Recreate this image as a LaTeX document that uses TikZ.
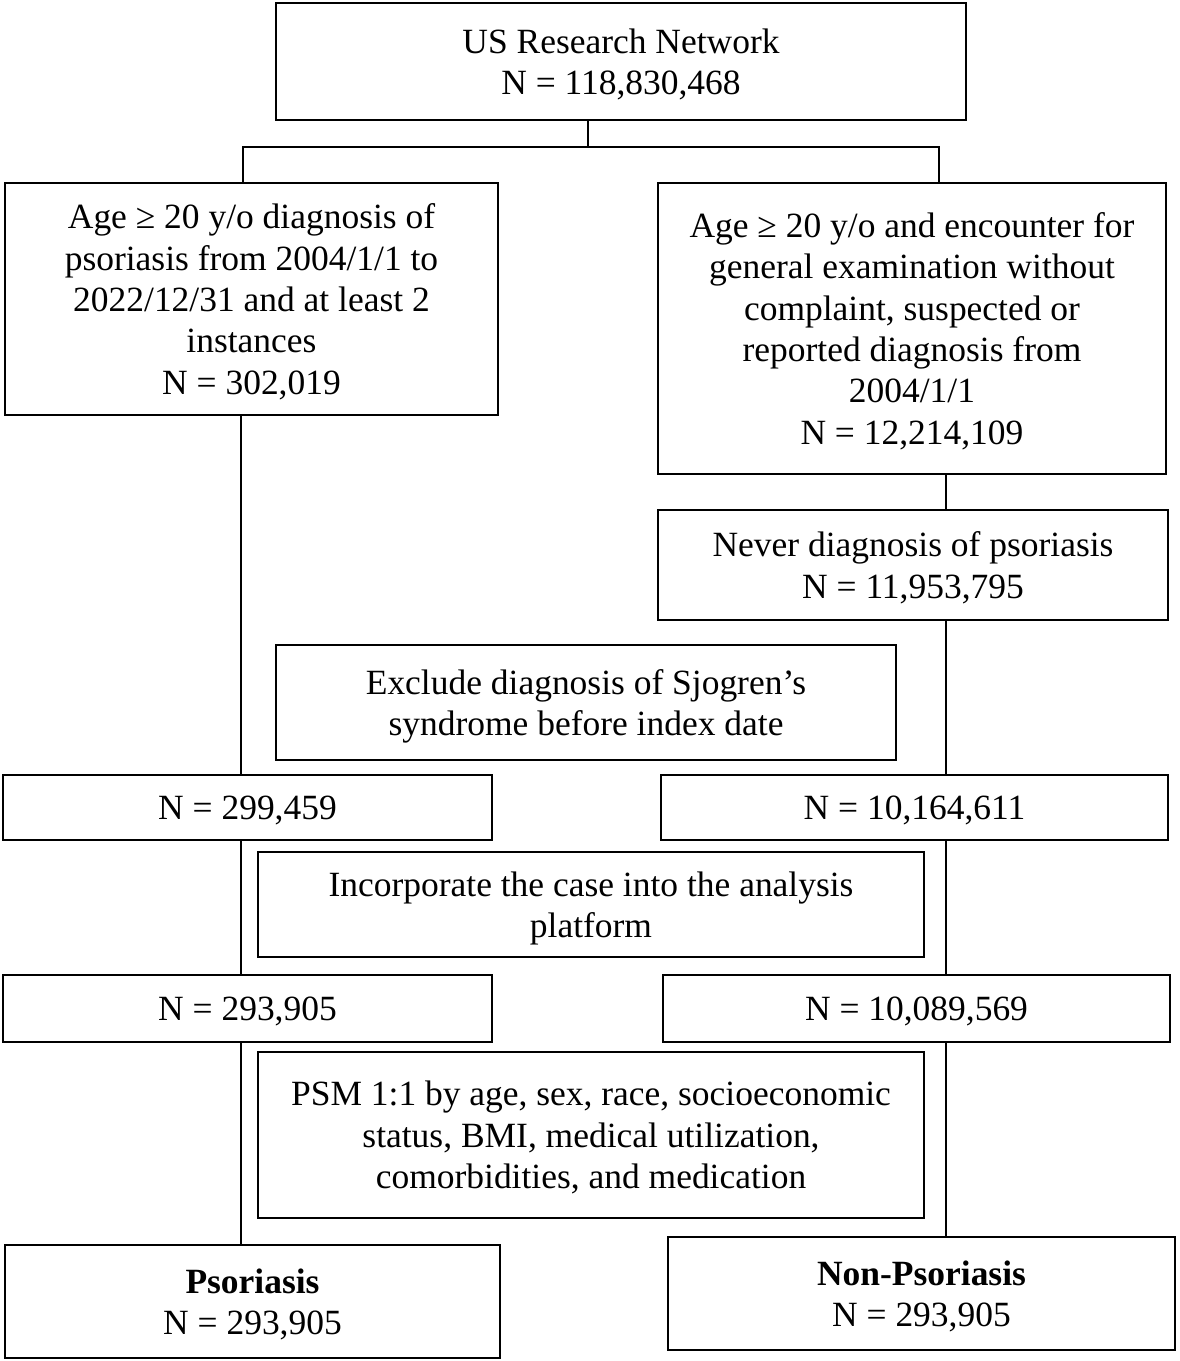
\documentclass[tikz,border=0pt]{standalone}
\usepackage{fontspec}
\setmainfont{Liberation Serif}
\begin{document}
\begin{tikzpicture}[x=0.75pt,y=-0.75pt,
  box/.style={draw=black,line width=2.1pt,rectangle,inner sep=0pt,align=center,
    text depth=0pt,font=\fontsize{26.6}{31}\selectfont},
  conn/.style={draw=black,line width=1.6pt}]
\useasboundingbox (0,0) rectangle (1180,1361);
\node[box,minimum width=517.5pt,minimum height=87.75pt] (T) at (621,61.5)
  {US Research Network\\N = 118,830,468};
\node[box,minimum width=369.75pt,minimum height=174pt] (L1) at (251.5,299)
  {Age ≥ 20 y/o diagnosis of\\psoriasis from 2004/1/1 to\\2022/12/31 and at least 2\\instances\\N = 302,019};
\node[box,minimum width=381pt,minimum height=218.25pt] (R1) at (912,328.5)
  {Age ≥ 20 y/o and encounter for\\general examination without\\complaint, suspected or\\reported diagnosis from\\2004/1/1\\N = 12,214,109};
\node[box,minimum width=382.5pt,minimum height=82.5pt] (R2) at (913,565)
  {Never diagnosis of psoriasis\\N = 11,953,795};
\node[box,minimum width=465pt,minimum height=86.25pt] (EX) at (586,702.5)
  {Exclude diagnosis of Sjogren’s\\syndrome before index date};
\node[box,minimum width=366.75pt,minimum height=48.75pt] (L3) at (247.5,807.5)
  {N = 299,459};
\node[box,minimum width=380.25pt,minimum height=48.75pt] (R3) at (914.5,807.5)
  {N = 10,164,611};
\node[box,minimum width=499.5pt,minimum height=78.75pt] (IN) at (591,904.5)
  {Incorporate the case into the analysis\\platform};
\node[box,minimum width=366.75pt,minimum height=50.25pt] (L4) at (247.5,1008.5)
  {N = 293,905};
\node[box,minimum width=380.25pt,minimum height=50.25pt] (R4) at (916.5,1008.5)
  {N = 10,089,569};
\node[box,minimum width=499.5pt,minimum height=124.5pt] (PSM) at (591,1135)
  {PSM 1:1 by age, sex, race, socioeconomic\\status, BMI, medical utilization,\\comorbidities, and medication};
\node[box,minimum width=371.25pt,minimum height=84.75pt] (L5) at (252.5,1301.5)
  {\textbf{Psoriasis}\\N = 293,905};
\node[box,minimum width=380.25pt,minimum height=84.75pt] (R5) at (921.5,1293.5)
  {\textbf{Non-Psoriasis}\\N = 293,905};
\coordinate (jc) at (588,147);
\coordinate (jl) at (243,147);
\coordinate (jr) at (939,147);
\coordinate (cl) at (241,0);
\coordinate (cr) at (946,0);
\draw[conn] (T.south -| jc) -- (jc);
\draw[conn] (L1.north -| jl) -- (jl) -- (jr) -- (R1.north -| jr);
\draw[conn] (L1.south -| cl) -- (L3.north -| cl);
\draw[conn] (L3.south -| cl) -- (L4.north -| cl);
\draw[conn] (L4.south -| cl) -- (L5.north -| cl);
\draw[conn] (R1.south -| cr) -- (R2.north -| cr);
\draw[conn] (R2.south -| cr) -- (R3.north -| cr);
\draw[conn] (R3.south -| cr) -- (R4.north -| cr);
\draw[conn] (R4.south -| cr) -- (R5.north -| cr);
\end{tikzpicture}
\end{document}
